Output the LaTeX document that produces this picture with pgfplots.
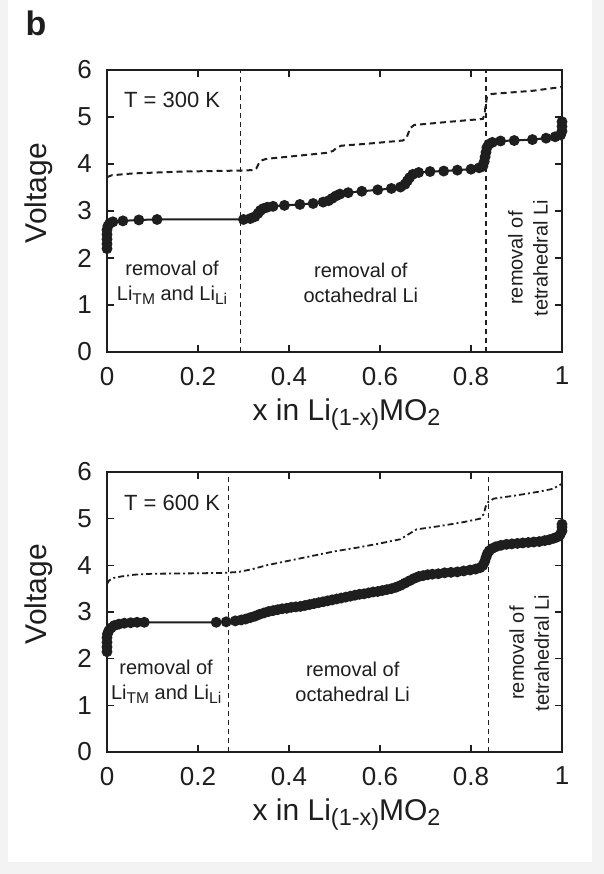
\documentclass[border=0pt]{standalone}
\usepackage{fontspec}
\setmainfont{Liberation Sans}
\usepackage{graphicx}
\usepackage{pgfplots}
\pgfplotsset{compat=1.18}
\definecolor{ink}{HTML}{1E1E1E}
\definecolor{bgg}{HTML}{F3F3F3}
\newcommand\sub[1]{\raisebox{-0.35ex}{\scalebox{0.78}{#1}}}

\pgfplotstableread{
x y
0 2.2
0 2.3
0 2.4
0 2.5
0 2.6
0.002 2.68
0.006 2.74
0.013 2.77
0.035 2.79
0.07 2.81
0.11 2.82
0.30 2.82
0.315 2.84
0.325 2.88
0.332 2.95
0.337 3.01
0.343 3.05
0.352 3.08
0.365 3.1
0.39 3.12
0.424 3.14
0.453 3.16
0.475 3.19
0.487 3.22
0.495 3.27
0.503 3.32
0.512 3.36
0.53 3.39
0.56 3.42
0.595 3.45
0.625 3.48
0.645 3.51
0.655 3.57
0.66 3.64
0.665 3.71
0.672 3.78
0.685 3.82
0.71 3.84
0.74 3.85
0.77 3.87
0.8 3.89
0.818 3.92
0.826 3.95
0.829 4.05
0.831 4.15
0.833 4.25
0.835 4.35
0.839 4.42
0.847 4.46
0.865 4.49
0.895 4.5
0.935 4.52
0.965 4.55
0.985 4.58
0.997 4.62
1.0 4.7
1.0 4.8
1.0 4.9
}\solidA

\pgfplotstableread{
x y
0 3.72
0.01 3.76
0.057 3.8
0.167 3.84
0.29 3.86
0.32 3.87
0.328 3.9
0.333 4.0
0.338 4.07
0.35 4.11
0.424 4.18
0.485 4.24
0.497 4.28
0.505 4.35
0.515 4.39
0.57 4.43
0.65 4.5
0.658 4.55
0.662 4.65
0.666 4.76
0.675 4.83
0.754 4.9
0.826 4.96
0.83 5.05
0.832 5.25
0.835 5.42
0.845 5.49
0.937 5.56
1.0 5.64
}\dashA

\pgfplotstableread{
x y
0 2.15
0 2.25
0 2.35
0 2.45
0.001 2.53
0.004 2.6
0.009 2.66
0.016 2.71
0.026 2.74
0.038 2.76
0.052 2.77
0.066 2.78
0.082 2.78
0.24 2.78
0.262 2.79
0.282 2.81
0.295 2.83
0.305 2.85
0.315 2.88
0.325 2.91
0.335 2.95
0.345 2.98
0.355 3.01
0.365 3.03
0.375 3.05
0.385 3.07
0.395 3.08
0.405 3.1
0.415 3.11
0.425 3.12
0.435 3.14
0.445 3.16
0.455 3.18
0.465 3.2
0.475 3.22
0.485 3.24
0.495 3.26
0.505 3.28
0.515 3.3
0.525 3.32
0.535 3.34
0.545 3.36
0.555 3.38
0.565 3.39
0.575 3.41
0.585 3.43
0.595 3.44
0.605 3.46
0.615 3.48
0.625 3.5
0.635 3.53
0.645 3.57
0.655 3.62
0.665 3.67
0.675 3.72
0.685 3.76
0.695 3.78
0.705 3.8
0.715 3.81
0.728 3.82
0.742 3.84
0.756 3.85
0.77 3.86
0.784 3.88
0.798 3.9
0.81 3.92
0.82 3.95
0.826 4.0
0.83 4.08
0.833 4.17
0.836 4.25
0.84 4.31
0.846 4.36
0.855 4.4
0.866 4.43
0.878 4.45
0.89 4.46
0.902 4.47
0.914 4.48
0.926 4.49
0.938 4.5
0.95 4.51
0.962 4.53
0.972 4.55
0.982 4.58
0.99 4.61
0.996 4.66
1.0 4.74
1.0 4.82
1.0 4.88
}\solidB

\pgfplotstableread{
x y
0 3.6
0.005 3.68
0.015 3.73
0.03 3.76
0.06 3.8
0.1 3.82
0.2 3.83
0.26 3.84
0.29 3.86
0.32 3.92
0.35 4.0
0.4 4.1
0.45 4.2
0.5 4.3
0.55 4.38
0.6 4.47
0.645 4.56
0.665 4.68
0.68 4.77
0.73 4.84
0.78 4.92
0.82 5.0
0.828 5.1
0.832 5.25
0.838 5.36
0.85 5.43
0.9 5.5
0.95 5.58
0.98 5.64
1.0 5.75
}\dashB

\pgfplotsset{
  panel/.style={
    scale only axis, width=227.5pt,
    xmin=0, xmax=1, ymin=0, ymax=6,
    xtick={0,0.2,0.4,0.6,0.8,1},
    ytick={0,1,2,3,4,5,6},
    tick align=inside, major tick length=3.5pt,
    axis line style={line width=1pt, ink},
    every tick/.style={ink, line width=0.7pt},
    tick label style={font=\fontsize{13}{15}\selectfont, text=ink},
    xticklabel style={yshift=-4pt},
    yticklabel style={xshift=-4pt},
    /pgf/number format/assume math mode=true,
    every axis x label/.style={at={([xshift=6pt,yshift=-34pt]axis description cs:0.5,0)}, anchor=base, font=\fontsize{15}{18}\selectfont, text=ink},
    every axis y label/.style={at={([xshift=-34pt,yshift=9pt]axis description cs:0,0.5)}, rotate=90, anchor=center, font=\fontsize{15}{18}\selectfont, text=ink},
    xlabel={x in Li\sub{(1-x)}MO\sub{2}},
    ylabel={Voltage},
    clip=false,
  },
}
\tikzset{
  ann/.style={font=\fontsize{10}{12.5}\selectfont, text=ink, align=center},
  solidcurve/.style={ink, line width=1pt, mark=*, mark size=2.2pt, mark options={ink, fill=ink, solid}},
  vline/.style={ink, line width=0.6pt, dash pattern=on 2.5pt off 2pt},
}

\begin{document}
\begin{tikzpicture}
\useasboundingbox (0,0) rectangle (302pt,-437pt);
\fill[bgg] (0,0) rectangle (302pt,-437pt);
\fill[white] (4pt,0) rectangle (296pt,-431pt);
\node[font=\fontsize{17}{19}\selectfont\bfseries, text=ink] at (18pt,-11.5pt) {b};

\begin{axis}[panel, height=141pt, at={(53.5pt,-176pt)}, anchor=south west]
  \addplot[vline] coordinates {(0.293,0) (0.293,6)};
  \addplot[vline] coordinates {(0.833,0) (0.833,6)};
  \addplot[ink, line width=1pt, dash pattern=on 3pt off 2pt] table {\dashA};
  \addplot[solidcurve] table {\solidA};
  \node[ann, anchor=west, font=\fontsize{11}{13}\selectfont] at (axis cs:0.022,5.37) {T = 300 K};
  \node[ann] at (axis cs:0.143,1.48) {removal of\\Li\sub{TM} and Li\sub{Li}};
  \node[ann] at (axis cs:0.558,1.48) {removal of\\octahedral Li};
  \node[ann, rotate=90] at (axis cs:0.925,2.0) {removal of\\tetrahedral Li};
\end{axis}

\begin{axis}[panel, height=140pt, at={(53.5pt,-376pt)}, anchor=south west]
  \addplot[vline] coordinates {(0.267,0) (0.267,6)};
  \addplot[vline] coordinates {(0.838,0) (0.838,6)};
  \addplot[ink, line width=0.9pt, dash pattern=on 3pt off 1.5pt on 1pt off 1.5pt] table {\dashB};
  \addplot[solidcurve] table {\solidB};
  \node[ann, anchor=west, font=\fontsize{11}{13}\selectfont] at (axis cs:0.022,5.34) {T = 600 K};
  \node[ann] at (axis cs:0.13,1.5) {removal of\\Li\sub{TM} and Li\sub{Li}};
  \node[ann] at (axis cs:0.54,1.5) {removal of\\octahedral Li};
  \node[ann, rotate=90] at (axis cs:0.928,2.12) {removal of\\tetrahedral Li};
\end{axis}
\end{tikzpicture}
\end{document}
